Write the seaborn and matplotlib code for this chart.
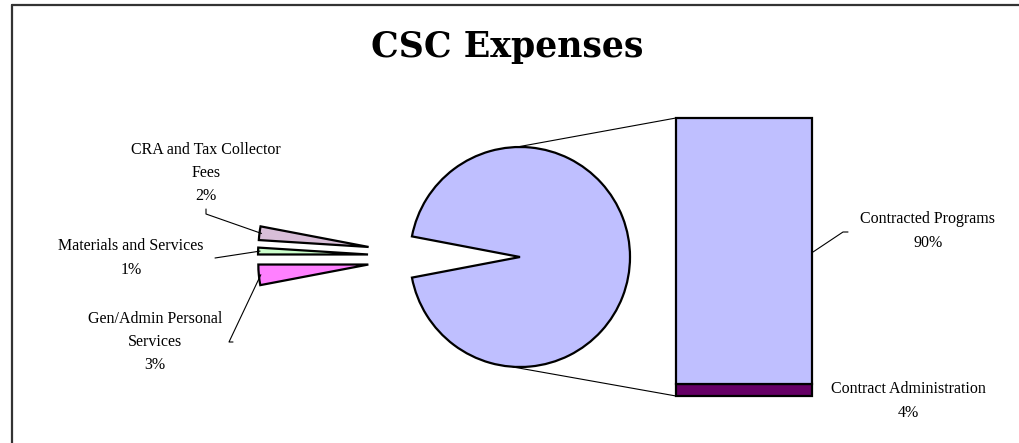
import numpy as np
import matplotlib
matplotlib.use("Agg")
import matplotlib.pyplot as plt
import seaborn as sns

# values (percent of total expenses)
pie_labels = ["CRA and Tax Collector\nFees", "Materials and Services", "Gen/Admin Personal\nServices"]
pie_pct = [2, 1, 3]
bar_labels = ["Contract Administration", "Contracted Programs"]
bar_pct = [4, 90]

pie_colors = ["#D8BED8", "#CCFFCC", "#FF80FF"]
bar_colors = ["#660066", "#BFBFFF"]
other_color = "#BFBFFF"

sns.set_theme(style="white")
plt.rcParams["font.family"] = ["Liberation Serif", "DejaVu Serif"]

W, H = 1020, 443
fig = plt.figure(figsize=(W / 100, H / 100), dpi=100)
ax = fig.add_axes([0, 0, 1, 1])

other = sum(bar_pct)
R = 110
c_main = (520, H - 257)

# main pie : the "other" slice, centred on the right
start = -other * 3.6 / 2
w_main, _ = ax.pie([other / 100], normalize=False, startangle=start, radius=R,
                   center=c_main, colors=[other_color],
                   wedgeprops=dict(edgecolor="black", linewidth=1.6))

# the small slices, pulled out to the left (explode is in data units here)
shift = 72
expl = 80
c_small = (c_main[0] - shift, c_main[1])
small_start = start + other * 3.6
w_small, _ = ax.pie([p / 100 for p in pie_pct], normalize=False, startangle=small_start,
                    radius=R, center=c_small, colors=pie_colors,
                    explode=[expl] * len(pie_pct),
                    wedgeprops=dict(edgecolor="black", linewidth=1.6))

# stacked bar for the "other" slice
bar_x0, bar_w = 676, 136
bar_y0 = H - 396
scale = 278 / other
bottom = bar_y0
for v, col in zip(bar_pct, bar_colors):
    ax.bar(bar_x0, v * scale, width=bar_w, bottom=bottom, align="edge",
           color=col, edgecolor="black", linewidth=1.6)
    bottom += v * scale
bar_top = bottom

# connector lines pie -> bar
ax.plot([c_main[0] - 3, bar_x0], [c_main[1] + R, bar_top], color="black", lw=0.8)
ax.plot([c_main[0] - 7, bar_x0], [c_main[1] - R, bar_y0], color="black", lw=0.8)

txt = dict(ha="center", va="center", fontsize=11.5, linespacing=1.6, color="black")

# labels for the small slices
ang = small_start
lab_pos = [(206, H - 173), (131, H - 258), (155, H - 342)]
lead_end = [[(206, H - 209), (206, H - 214)], [(215, H - 258)], [(233, H - 342), (229, H - 342)]]
for lab, p, pos, le in zip(pie_labels, pie_pct, lab_pos, lead_end):
    mid = np.deg2rad(ang + p * 1.8)
    ang += p * 3.6
    rr = R + expl - 2
    wx = c_small[0] + rr * np.cos(mid)
    wy = c_small[1] + rr * np.sin(mid)
    pts = [(wx, wy)] + le[::-1]
    ax.plot([q[0] for q in pts], [q[1] for q in pts], color="black", lw=0.8)
    ax.text(pos[0], pos[1], f"{lab}\n{p}%", **txt)

# labels for the bar
ax.text(928, H - 231, f"{bar_labels[1]}\n{bar_pct[1]}%", **txt)
ax.plot([bar_x0 + bar_w + 1, 843, 848], [H - 252, H - 232, H - 232], color="black", lw=0.8)
ax.text(908, H - 401, f"{bar_labels[0]}\n{bar_pct[0]}%", **txt)

ax.text(507, H - 47, "CSC Expenses", ha="center", va="center", fontsize=25,
        fontweight="bold", family=["DejaVu Serif"], color="black")

# chart border (top and left edges visible)
ax.plot([12, W], [H - 5, H - 5], color="#333333", lw=1.6)
ax.plot([12, 12], [0, H - 5], color="#333333", lw=1.6)

ax.set_xlim(0, W)
ax.set_ylim(0, H)
ax.set_aspect("auto")
ax.axis("off")

fig.savefig("out.png", dpi=100)
